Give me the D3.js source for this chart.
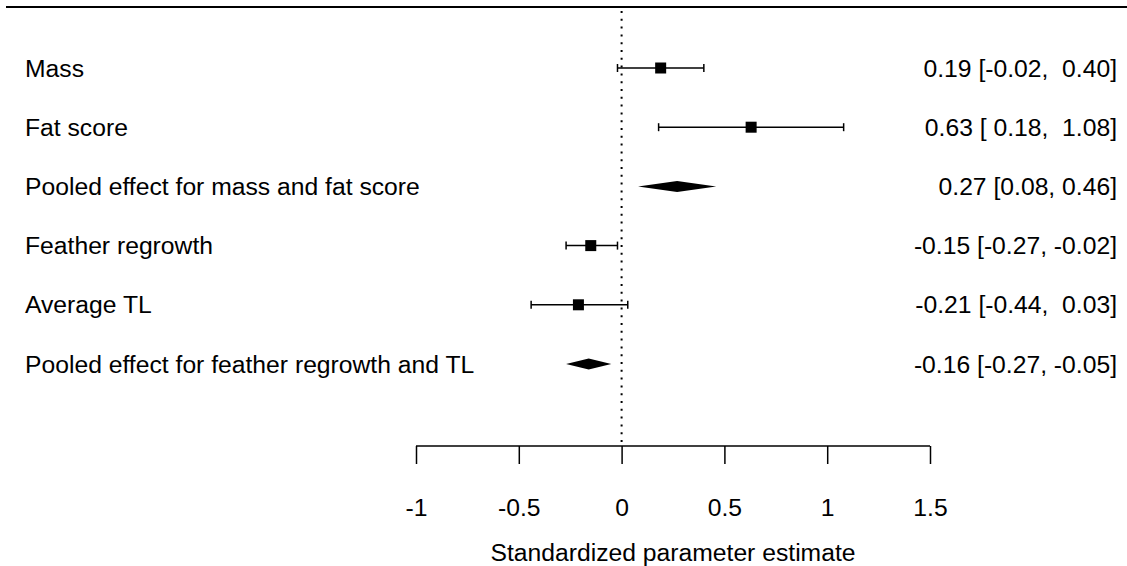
<!DOCTYPE html>
<html>
<head>
<meta charset="utf-8">
<script src="https://cdn.jsdelivr.net/npm/d3@7"></script>
<style>
  html, body { margin: 0; padding: 0; background: #fff; }
  svg text { font-family: "Liberation Sans", Arial, sans-serif; fill: #000; white-space: pre; }
</style>
</head>
<body>
<svg id="chart" width="1127" height="566"></svg>
<script>
// ---- data ----
const labels = ["Mass", "Fat score", "Pooled effect for mass and fat score", "Feather regrowth", "Average TL", "Pooled effect for feather regrowth and TL"];
const estimates = [0.19, 0.63, 0.27, -0.15, -0.21, -0.16];
const lower = [-0.02, 0.18, 0.08, -0.27, -0.44, -0.27];
const upper = [0.40, 1.08, 0.46, -0.02, 0.03, -0.05];
const isPooled = [false, false, true, false, false, true];
const ciText = ["0.19 [-0.02,  0.40]", "0.63 [ 0.18,  1.08]", "0.27 [0.08, 0.46]", "-0.15 [-0.27, -0.02]", "-0.21 [-0.44,  0.03]", "-0.16 [-0.27, -0.05]"];
const tickValues = [-1, -0.5, 0, 0.5, 1, 1.5];
const tickLabels = ["-1", "-0.5", "0", "0.5", "1", "1.5"];
const axisTitle = "Standardized parameter estimate";

// ---- layout ----
const svg = d3.select("#chart");
const fontSize = 24.7;
const x = d3.scaleLinear().domain([-1, 1.5]).range([416, 930]);
const y = d3.scaleLinear().domain([0, 5]).range([68, 364]);
const topY = 7, axisY = 446;

// top line
svg.append("line").attr("x1", 6).attr("x2", 1127).attr("y1", topY).attr("y2", topY)
  .attr("stroke", "#000").attr("stroke-width", 2);

// reference line at 0
svg.append("line").attr("x1", x(0)).attr("x2", x(0)).attr("y1", topY + 4).attr("y2", axisY)
  .attr("stroke", "#000").attr("stroke-width", 2).attr("stroke-dasharray", "2,5.8");

// axis
const axis = d3.axisBottom(x).tickValues(tickValues).tickFormat((d, i) => tickLabels[i]).tickSize(18).tickSizeOuter(0);
const gAxis = svg.append("g").attr("transform", `translate(0,${axisY})`).call(axis);
gAxis.select(".domain").attr("stroke", "#000").attr("stroke-width", 1.5).attr("d", `M${x(-1)},0H${x(1.5)}`);
gAxis.selectAll(".tick line").attr("stroke", "#000").attr("stroke-width", 1.5);
gAxis.selectAll(".tick text").attr("font-size", fontSize).attr("font-family", "Liberation Sans, Arial, sans-serif")
  .attr("fill", "#000").attr("y", 0).attr("dy", null).attr("transform", "translate(0,61)")
  .attr("dominant-baseline", "central");

svg.append("text").attr("x", x(0.25)).attr("y", 552).attr("text-anchor", "middle")
  .attr("dominant-baseline", "central").attr("font-size", fontSize).text(axisTitle);

// rows
const rows = labels.map((l, i) => ({ label: l, est: estimates[i], lo: lower[i], hi: upper[i], pooled: isPooled[i], txt: ciText[i], i }));

const g = svg.append("g");
rows.forEach(r => {
  const yy = y(r.i);
  g.append("text").attr("x", 25).attr("y", yy).attr("dominant-baseline", "central")
    .attr("font-size", fontSize).text(r.label);
  g.append("text").attr("x", 1117).attr("y", yy).attr("text-anchor", "end").attr("dominant-baseline", "central")
    .attr("font-size", fontSize).text(r.txt);
  if (r.pooled) {
    const h = 5.5;
    g.append("path")
      .attr("d", `M${x(r.lo)},${yy}L${x(r.est)},${yy - h}L${x(r.hi)},${yy}L${x(r.est)},${yy + h}Z`)
      .attr("fill", "#000");
  } else {
    g.append("line").attr("x1", x(r.lo)).attr("x2", x(r.hi)).attr("y1", yy).attr("y2", yy)
      .attr("stroke", "#000").attr("stroke-width", 1.5);
    [r.lo, r.hi].forEach(v => {
      g.append("line").attr("x1", x(v)).attr("x2", x(v)).attr("y1", yy - 4).attr("y2", yy + 4)
        .attr("stroke", "#000").attr("stroke-width", 1.5);
    });
    const s = 11;
    g.append("rect").attr("x", x(r.est) - s / 2).attr("y", yy - s / 2).attr("width", s).attr("height", s)
      .attr("fill", "#000");
  }
});
</script>
</body>
</html>
